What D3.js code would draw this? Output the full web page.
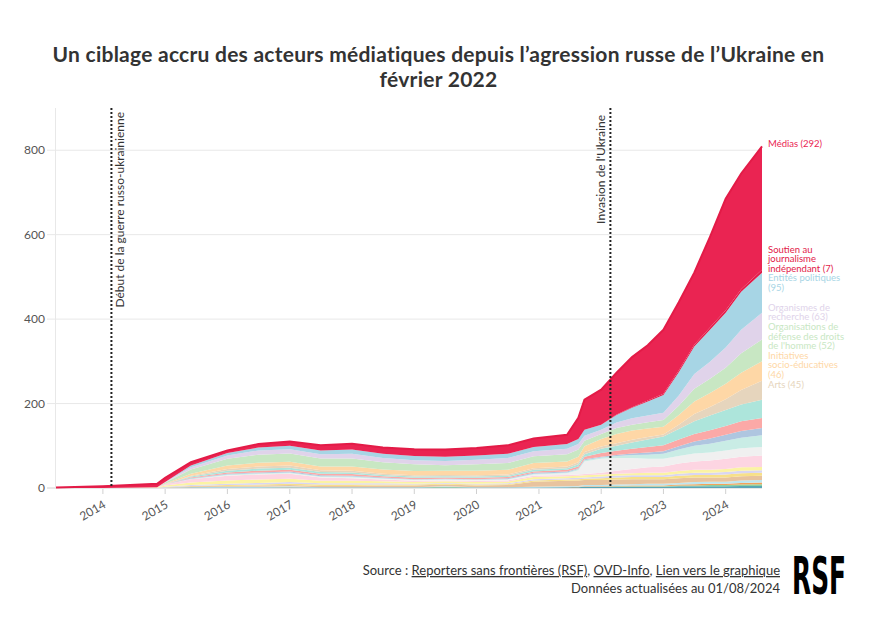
<!DOCTYPE html>
<html><head><meta charset="utf-8">
<script src="https://cdn.jsdelivr.net/npm/d3@7"></script>
<style>
body{margin:0;background:#fff;}
svg text{font-family:Lato,"Noto Sans",sans-serif;}
</style></head><body>
<svg id="chart" width="877" height="622"></svg>
<script>
// ---------- DATA ----------
const dates = ["2013-04-01","2014-01-01","2014-11-15","2015-01-01","2015-06-01","2016-01-01","2016-07-01","2017-01-01","2017-07-01","2018-01-01",
"2018-07-01","2019-01-01","2019-07-01","2020-01-01","2020-07-01","2020-12-01","2021-06-15","2021-08-20","2021-09-25","2022-01-01",
"2022-04-01","2022-07-01","2022-10-01","2023-01-01","2023-04-01","2023-07-01","2023-10-01","2024-01-01","2024-04-01","2024-08-01"];

const medias      = [1,4,8,10,8,6,8,10,12,14, 15,16,17,18,20,20,22,50,71,83, 99,119,131,152,162,171,215,264,274,292];
const soutien     = [0,0,0,0,0,0,0,0,0,0, 0,0,0,0,0,0,0,0,0,0, 1,1,2,3,4,4,5,6,6,7];
const entites     = [0,0,0,0,4,6,7,8,9,10, 10,10,10,10,10,10,11,12,14,12, 18,25,33,42,55,65,76,82,90,95];
const recherche   = [0,0,0,1,5,8,10,10,10,11, 10,10,10,11,12,12,13,13,12,10, 13,15,16,17,24,35,40,48,56,63];
const droits      = [0,0,0,3,10,16,19,20,19,19, 17,16,13,15,16,16,17,17,13,12, 14,14,15,16,22,30,34,38,46,52];
const initiatives = [0,0,0,1,5,8,9,9,9,10, 10,10,10,11,11,12,12,13,14,18, 22,22,20,18,23,30,33,37,41,46];
const arts        = [0,0,0,0,2,4,5,5,4,4, 3,3,3,3,3,4,4,5,5,5, 6,6,6,5,10,17,20,25,34,45];
const autre1      = [0,0,0,0,2,4,5,5,4,4, 3,3,3,3,3,4,4,5,6,10, 12,15,18,21,25,30,35,38,40,43];
const autre2      = [0,0,0,0,2,3,4,4,4,4, 3,3,3,3,3,3,4,4,6,9, 10,11,13,14,16,18,20,21,23,24];
const autre3      = [0,0,0,0,1,2,2,2,2,2, 2,1,1,1,2,2,2,2,2,2, 2,4,5,6,8,10,12,14,16,17];
const autre4      = [0,0,0,0,1,2,2,2,2,2, 1,1,1,1,1,2,2,3,3,3, 5,7,10,12,15,18,21,23,25,28];
const autre5      = [0,0,0,0,0,1,1,1,1,2, 2,2,2,2,2,3,4,10,30,33, 30,26,20,18,18,19,19,20,20,20];
const autre6      = [0,0,1,3,8,11,12,12,8,6, 4,3,2,3,3,3,3,3,3,4, 7,10,13,15,18,20,22,24,25,27];
const autre7      = [0,0,1,3,6,8,8,8,6,6, 5,4,4,4,4,5,5,5,5,5, 5,5,6,6,6,7,7,7,8,8];
const autre8      = [0,0,0,1,2,3,4,4,3,3, 3,2,2,2,2,3,3,3,3,4, 4,4,4,4,5,5,5,6,6,6];
const autre9      = [0,0,0,0,1,2,2,3,3,3, 2,2,2,2,2,3,3,3,3,4, 5,5,5,5,6,6,6,7,7,7];
const autre10     = [0,0,0,1,2,2,3,3,3,3, 4,4,4,4,5,12,13,13,12,12, 12,12,11,11,11,11,10,10,10,10];
const autre11     = [0,0,0,1,1,2,2,2,1,1, 1,1,1,1,1,2,2,2,3,3, 3,3,4,4,4,5,5,5,6,6];
const autre12     = [0,0,0,0,0,0,0,1,0,0, 0,0,0,0,0,0,0,1,1,1, 1,2,2,2,2,3,3,3,4,4];
const autre13     = [0,0,0,0,0,0,0,0,0,0, 0,0,2,0,0,0,0,0,0,0, 1,1,1,1,2,2,3,3,3,4];
const autre14     = [0,0,0,0,1,1,1,1,1,1, 1,1,1,1,1,1,2,2,3,3, 3,3,3,3,4,4,4,4,5,5];

// series, bottom to top of the stack
const series = [
  {key:"autre14", values:autre14, color:"#5aa6b5"},
  {key:"autre13", values:autre13, color:"#8fd19e"},
  {key:"autre12", values:autre12, color:"#f4a259"},
  {key:"autre11", values:autre11, color:"#bfe6ef"},
  {key:"autre10", values:autre10, color:"#e8c39e"},
  {key:"autre9",  values:autre9,  color:"#f7e08a"},
  {key:"autre8",  values:autre8,  color:"#d9d6f2"},
  {key:"autre7",  values:autre7,  color:"#fbf3a4"},
  {key:"autre6",  values:autre6,  color:"#fdd5e2"},
  {key:"autre5",  values:autre5,  color:"#f0f0f0"},
  {key:"autre4",  values:autre4,  color:"#c9ece5"},
  {key:"autre3",  values:autre3,  color:"#afc6e0"},
  {key:"autre2",  values:autre2,  color:"#fba9a7"},
  {key:"autre1",  values:autre1,  color:"#ade5db"},
  {key:"arts",        values:arts,        color:"#e6d5bd", label:"Arts (45)"},
  {key:"initiatives", values:initiatives, color:"#fed7a6", label:"Initiatives socio-éducatives (46)"},
  {key:"droits",      values:droits,      color:"#c8e7c3", label:"Organisations de défense des droits de l'homme (52)"},
  {key:"recherche",   values:recherche,   color:"#e0d3ea", label:"Organismes de recherche (63)"},
  {key:"entites",     values:entites,     color:"#a7d5e5", label:"Entités politiques (95)"},
  {key:"soutien",     values:soutien,     color:"#e21a48", label:"Soutien au journalisme indépendant (7)"},
  {key:"medias",      values:medias,      color:"#ea2452", label:"Médias (292)"}
];

const yTicks = [0,200,400,600,800];
const xTickYears = [2014,2015,2016,2017,2018,2019,2020,2021,2022,2023,2024];
const events = [
  {date:"2014-02-20", label:"Début de la guerre russo-ukrainienne", side:"right"},
  {date:"2022-02-24", label:"Invasion de l'Ukraine", side:"left"}
];
const titleLines = ["Un ciblage accru des acteurs médiatiques depuis l’agression russe de l’Ukraine en","février 2022"];

// ---------- CHART ----------
const svg = d3.select("#chart");
const parse = d3.timeParse("%Y-%m-%d");
const table = dates.map((d,i)=>{
  const row = {date: parse(d)};
  series.forEach(s=> row[s.key] = s.values[i]);
  return row;
});

const x = d3.scaleTime().domain([parse(dates[0]), parse(dates[dates.length-1])]).range([56,762]);
const y = d3.scaleLinear().domain([0,900]).range([488,108]);

// title
svg.append("g").selectAll("text").data(titleLines).join("text")
  .attr("x",438.5).attr("y",(d,i)=>62+i*25).attr("text-anchor","middle").attr("fill","#333")
  .style("font-weight","700").style("font-size","21px").style("letter-spacing","0.25px")
  .text(d=>d);

// grid
svg.append("g").selectAll("line").data(yTicks).join("line")
  .attr("x1",47).attr("x2",762).attr("y1",d=>y(d)).attr("y2",d=>y(d))
  .attr("stroke",d=>d===0?"#d0d0d0":"#e8e8e8").attr("stroke-width",1);
svg.append("line").attr("x1",55.5).attr("x2",55.5).attr("y1",108).attr("y2",488).attr("stroke","#e8e8e8");

svg.append("g").selectAll("text").data(yTicks).join("text")
  .attr("x",45).attr("y",d=>y(d)).attr("dy","0.35em").attr("text-anchor","end")
  .attr("fill","#555").style("font-size","12px").text(d=>d);

// stacked areas
const stack = d3.stack().keys(series.map(s=>s.key));
const layers = stack(table);
const area = d3.area().x(d=>x(d.data.date)).y0(d=>y(d[0])).y1(d=>y(d[1]));
svg.append("g").selectAll("path").data(layers).join("path")
  .attr("d",area).attr("fill",(d,i)=>series[i].color);

// top line of Médias
const topLayer = layers[layers.length-1];
svg.append("path").datum(topLayer)
  .attr("d", d3.line().x(d=>x(d.data.date)).y(d=>y(d[1])))
  .attr("fill","none").attr("stroke","#e31b47").attr("stroke-width",2);

// x axis ticks
const xt = xTickYears.map(yr=>new Date(yr,0,1));
svg.append("g").selectAll("line").data(xt).join("line")
  .attr("x1",d=>x(d)).attr("x2",d=>x(d)).attr("y1",489).attr("y2",494).attr("stroke","#d0d0d0");
svg.append("g").selectAll("text").data(xt).join("text")
  .attr("transform",d=>`translate(${x(d)+4},${507}) rotate(-30)`)
  .attr("text-anchor","end").attr("fill","#555").style("font-size","12px")
  .text(d=>d.getFullYear());

// event lines
events.forEach(ev=>{
  const xx = x(parse(ev.date));
  svg.append("line").attr("x1",xx).attr("x2",xx).attr("y1",108).attr("y2",488)
    .attr("stroke","#222").attr("stroke-width",2).attr("stroke-dasharray","2,2");
  const tx = ev.side==="right" ? xx+13 : xx-5;
  svg.append("text").attr("transform",`translate(${tx},${ev.side==="right"?112:115}) rotate(-90)`)
    .attr("text-anchor","end").attr("fill","#333").style("font-size","12px").text(ev.label);
});

// labels at right
const lh = 9.6, maxW = 80, fs = "9.5px";
const measure = svg.append("text").style("font-size",fs).attr("visibility","hidden");
function wrap(str){
  const words = str.split(" "); const lines=[]; let cur="";
  words.forEach(w=>{
    const t = cur ? cur+" "+w : w;
    measure.text(t);
    if (measure.node().getComputedTextLength() > maxW && cur){ lines.push(cur); cur=w; }
    else cur=t;
  });
  if(cur) lines.push(cur);
  return lines;
}
const last = layers.map(l=>l[l.length-1]);
let items = [];
series.forEach((s,i)=>{
  if(!s.label) return;
  const lines = wrap(s.label);
  items.push({lines, color:s.color, desired:y(last[i][1]), h:lines.length*lh});
});
measure.remove();
items.sort((a,b)=>a.desired-b.desired);
let groups = items.map(it=>({members:[it]}));
function lay(g){ g.H = d3.sum(g.members,m=>m.h); g.top = d3.mean(g.members,m=>m.desired) - g.H/2; }
let changed = true;
while(changed){
  changed=false;
  groups.forEach(lay);
  for(let i=1;i<groups.length;i++){
    if(groups[i].top < groups[i-1].top + groups[i-1].H + 1){
      groups[i-1].members = groups[i-1].members.concat(groups[i].members);
      groups.splice(i,1); changed=true; break;
    }
  }
}
groups.forEach(g=>{ lay(g); let t=g.top - 2; g.members.forEach(m=>{ m.top=t; t+=m.h; }); });
items.forEach(it=>{
  const t = svg.append("text").attr("fill",it.color).style("font-size",fs);
  it.lines.forEach((ln,k)=>{
    t.append("tspan").attr("x",768).attr("y",it.top + lh*k + lh*0.78).text(ln);
  });
});

// footer
const src = svg.append("text").attr("x",780).attr("y",575).attr("text-anchor","end")
  .attr("fill","#333").style("font-size","13px");
src.append("tspan").text("Source : ");
src.append("tspan").style("text-decoration","underline").text("Reporters sans frontières (RSF)");
src.append("tspan").text(", ");
src.append("tspan").style("text-decoration","underline").text("OVD-Info");
src.append("tspan").text(", ");
src.append("tspan").style("text-decoration","underline").text("Lien vers le graphique");
svg.append("text").attr("x",780).attr("y",593).attr("text-anchor","end")
  .attr("fill","#333").style("font-size","13px").text("Données actualisées au 01/08/2024");

// logo (scaled horizontally to fit its box)
const logo = svg.append("g");
const logoText = logo.append("text")
  .style("font-family","'DejaVu Sans Condensed','DejaVu Sans',sans-serif")
  .style("font-weight","700").style("font-size","51px").attr("fill","#000").text("RSF");
const lw = logoText.node().getComputedTextLength();
logo.attr("transform",`translate(792,594) scale(${54/lw},1)`);
</script>
</body></html>
